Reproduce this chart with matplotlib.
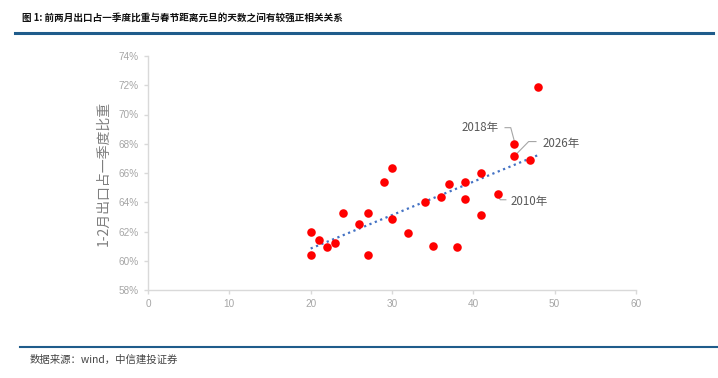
import numpy as np
from matplotlib import pyplot as plt
from matplotlib.ticker import FuncFormatter

plt.rcParams['font.family'] = ['Noto Sans CJK SC', 'DejaVu Sans']

# days between Spring Festival and New Year's Day, vs share of Q1 exports in Jan-Feb (%)
days = [20, 20, 21, 22, 23, 24, 26, 27, 27, 29, 30, 30, 32, 34, 35, 36, 37, 38,
        39, 39, 41, 41, 43, 45, 45, 47, 48]
share = [61.94, 60.37, 61.44, 60.92, 61.24, 63.24, 62.51, 63.24, 60.39, 65.37,
         66.33, 62.83, 61.92, 64.05, 61.02, 64.37, 65.24, 60.93, 65.40, 64.19,
         66.03, 63.14, 64.53, 68.00, 67.17, 66.88, 71.88]

notes = ['2018年', '2026年', '2010年']

figure = plt.figure(figsize=(7.18, 3.78), dpi=100)

# title and header rule
figure.text(22 / 718, 1 - 18 / 378, '图 1: 前两月出口占一季度比重与春节距离元旦的天数之间有较强正相关关系',
            fontsize=6.9, fontweight='bold', va='center', ha='left', color='#111111')
figure.add_artist(plt.Line2D([15 / 718, 713 / 718], [1 - 33 / 378, 1 - 33 / 378],
                             color='#1F5C8B', linewidth=2.2))
figure.add_artist(plt.Line2D([20 / 718, 718 / 718], [1 - 347 / 378, 1 - 347 / 378],
                             color='#1F5C8B', linewidth=1.5))
figure.text(30 / 718, 1 - 360 / 378, '数据来源：wind，中信建投证券', fontsize=7.5,
            va='center', ha='left', color='#444444', style='italic')

axes = figure.add_axes([148 / 718, 88 / 378, 488 / 718, 234 / 378])
axes.scatter(days, share, s=38, color='#FF0000', zorder=3, linewidths=0)

# linear trendline
coef = np.polyfit(days, share, 1)
xs = np.array([min(days), max(days)])
axes.plot(xs, np.polyval(coef, xs), linestyle=(0, (1, 1.6)), color='#4472C4',
          linewidth=1.6, zorder=2)

axes.set_xlim(0, 60)
axes.set_ylim(58, 74)
axes.set_xticks(range(0, 61, 10))
axes.set_yticks(range(58, 75, 2))
axes.yaxis.set_major_formatter(FuncFormatter(lambda v, p: '%d%%' % v))
for side in ['top', 'right']:
    axes.spines[side].set_visible(False)
for side in ['left', 'bottom']:
    axes.spines[side].set_color('#D9D9D9')
    axes.spines[side].set_linewidth(1)
axes.tick_params(colors='#D9D9D9', labelcolor='#A6A6A6', labelsize=7.2, length=3,
                 width=1)
for lab in axes.get_xticklabels() + axes.get_yticklabels():
    lab.set_family(['Liberation Sans', 'DejaVu Sans'])
axes.set_ylabel('1-2月出口占一季度比重', fontsize=10, color='#7F7F7F', labelpad=6)

# callouts
text_pos = [(38.6, 69.1), (48.5, 67.99), (44.6, 64.08)]
elbows = [[(43.9, 69.1), (44.6, 69.1), (45.0, 68.27)],
          [(47.7, 68.15), (46.8, 68.15), (45.3, 67.3)],
          [(44.0, 64.17), (43.3, 64.17), (43.07, 64.44)]]
for note, (tx, ty), path in zip(notes, text_pos, elbows):
    axes.text(tx, ty, note, fontsize=8.3, color='#595959', va='center', ha='left')
    px, py = zip(*path)
    axes.plot(px, py, color='#A6A6A6', linewidth=0.8, zorder=2)

figure.savefig('out.png', dpi=100)
